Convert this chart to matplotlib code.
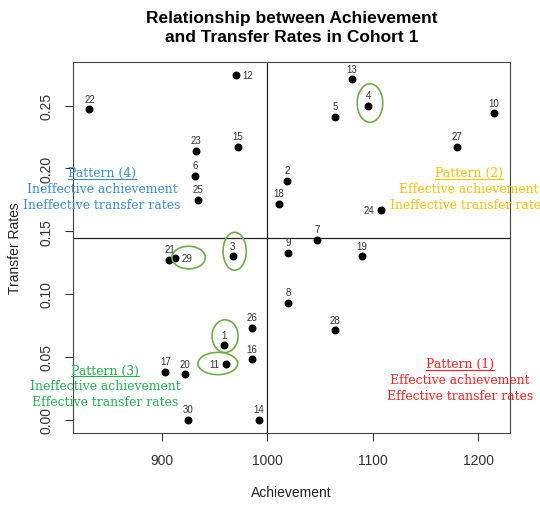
import numpy as np
import matplotlib
matplotlib.use('Agg')
import matplotlib.pyplot as plt
from matplotlib.patches import Ellipse
from matplotlib.lines import Line2D

plt.rcParams['font.family'] = ['Liberation Sans', 'DejaVu Sans']

# cohort 1 schools: id, achievement score, transfer rate
school_id = list(range(1, 31))
achievement = [959, 1019, 967, 1096, 1064, 931, 1047, 1020, 1020, 1215,
               961, 970, 1080, 992, 972, 985, 903, 1011, 1090, 922,
               907, 831, 932, 1108, 934, 985, 1180, 1064, 912, 925]
transfer = [0.059, 0.190, 0.130, 0.250, 0.241, 0.194, 0.143, 0.093, 0.133, 0.244,
            0.044, 0.274, 0.271, 0.000, 0.217, 0.048, 0.038, 0.172, 0.130, 0.036,
            0.127, 0.247, 0.214, 0.167, 0.175, 0.073, 0.217, 0.071, 0.129, 0.000]

# label side for each school (default above)
label_side = {12: 'right', 29: 'right', 11: 'left', 24: 'left'}

# circled schools: (dx, dy, width, height) relative to the point
circled = {4: (1.4, 0.002, 24.3, 0.0307),
           3: (1.9, 0.004, 22.1, 0.0302),
           29: (13.2, 0.0, 31.7, 0.0180),
           1: (0.8, 0.0074, 24.7, 0.0260),
           11: (-8.1, 0.0006, 37.7, 0.0177)}

patterns = [
    ('Pattern (4)', 'Ineffective achievement', 'Ineffective transfer rates', '#3a8fd4', 0.189, 0.6575),
    ('Pattern (2)', 'Effective achievement', 'Ineffective transfer rates', '#ffc000', 0.868, 0.6575),
    ('Pattern (3)', 'Ineffective achievement', 'Effective transfer rates', '#22b352', 0.195, 0.2668),
    ('Pattern (1)', 'Effective achievement', 'Effective transfer rates', '#ff2020', 0.852, 0.2800),
]

x = np.array(achievement)
y = np.array(transfer)

fig = plt.figure(figsize=(5.4, 5.06), dpi=100)
ax = fig.add_axes([0.1357, 0.1417, 0.8087, 0.7344])

ax.scatter(x, y, s=22, color='black', zorder=3)

for i, xi, yi in zip(school_id, x, y):
    side = label_side.get(i, 'top')
    if side == 'top':
        ax.annotate(str(i), (xi, yi), xytext=(0, 4), textcoords='offset points',
                    ha='center', va='bottom', fontsize=7, color='#333333')
    elif side == 'right':
        ax.annotate(str(i), (xi, yi), xytext=(5, 0), textcoords='offset points',
                    ha='left', va='center', fontsize=7, color='#333333')
    else:
        ax.annotate(str(i), (xi, yi), xytext=(-5, 0), textcoords='offset points',
                    ha='right', va='center', fontsize=7, color='#333333')

# mean lines split the chart into four quadrants
ax.axvline(x.mean(), color='#222222', lw=0.9)
ax.axhline(y.mean(), color='#222222', lw=0.9)

for i, (dx, dy, w, h) in circled.items():
    k = school_id.index(i)
    ax.add_patch(Ellipse((x[k] + dx, y[k] + dy), w, h, fill=False,
                         edgecolor='#70ad47', lw=1.2, zorder=4))

# R style 4% padding
xr = x.max() - x.min()
yr = y.max() - y.min()
ax.set_xlim(x.min() - 0.04 * xr, x.max() + 0.04 * xr)
ax.set_ylim(y.min() - 0.04 * yr, y.max() + 0.04 * yr)

ax.set_xticks([900, 1000, 1100, 1200])
ax.set_yticks([0.00, 0.05, 0.10, 0.15, 0.20, 0.25])
ax.set_yticklabels(['0.00', '0.05', '0.10', '0.15', '0.20', '0.25'], rotation=90, va='center')
ax.tick_params(direction='out', length=5.5, width=0.8, labelsize=10, pad=9,
               colors='#333333', labelcolor='#333333')
for sp in ax.spines.values():
    sp.set_color('#444444')
    sp.set_linewidth(0.8)

ax.set_xlabel('Achievement', fontsize=10, color='#222222', labelpad=13)
ax.set_ylabel('Transfer Rates', fontsize=10, color='#222222', labelpad=12)
fig.suptitle('Relationship between Achievement\nand Transfer Rates in Cohort 1',
             x=0.54, y=0.978, fontsize=12.5, fontweight='bold', linespacing=1.3)

heads = []
for head, l2, l3, col, fx, fy in patterns:
    step = 16 / 506
    t = fig.text(fx, fy, head, ha='center', va='center', fontsize=8.9,
                 family='DejaVu Serif', color=col)
    fig.text(fx, fy - step, l2, ha='center', va='center', fontsize=8.9,
             family='DejaVu Serif', color=col)
    fig.text(fx, fy - 2 * step, l3, ha='center', va='center', fontsize=8.9,
             family='DejaVu Serif', color=col)
    heads.append((t, col))

# underline the pattern headings
fig.canvas.draw()
r = fig.canvas.get_renderer()
for t, col in heads:
    bb = t.get_window_extent(r).transformed(fig.transFigure.inverted())
    fig.add_artist(Line2D([bb.x0, bb.x1], [bb.y0, bb.y0], color=col, lw=0.8,
                          transform=fig.transFigure))

fig.savefig('out.png', dpi=100)
